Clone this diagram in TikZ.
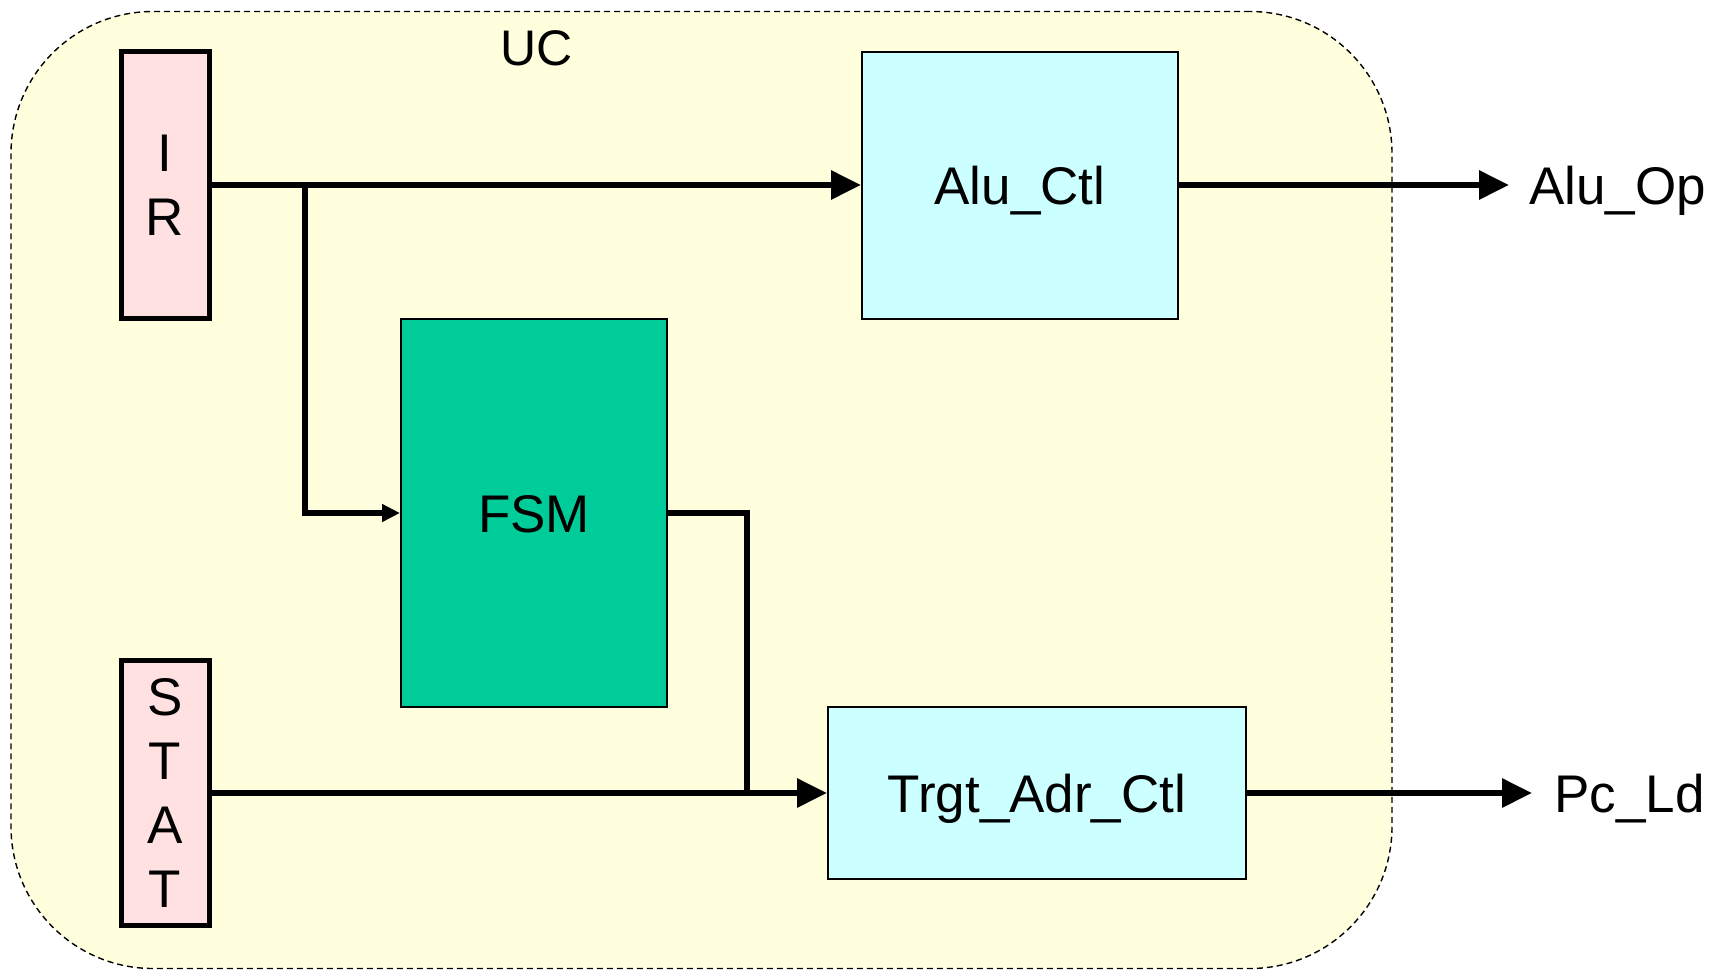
\documentclass[tikz,border=0pt]{standalone}
\usepackage{fontspec}
\setmainfont{Liberation Sans}
\usetikzlibrary{arrows.meta}
\definecolor{ucbg}{HTML}{FFFFDD}
\definecolor{regbg}{HTML}{FFE1E1}
\definecolor{ctlbg}{HTML}{CCFFFF}
\definecolor{fsmbg}{HTML}{00CC99}
\begin{document}
\begin{tikzpicture}[x=1pt,y=-1pt,
  bigfont/.style={font=\fontsize{53}{64}\selectfont},
  blk/.style={draw, line width=2pt, inner sep=0pt, bigfont, text height=38pt, text depth=0pt},
  reg/.style={draw, line width=5pt, fill=regbg, inner sep=0pt, align=center, bigfont},
  wire/.style={line width=6pt},
  arr/.style={wire, -{Triangle[length=30pt,width=28pt]}},
  sarr/.style={wire, -{Triangle[length=18pt,width=17pt]}},
  outlbl/.style={anchor=west, inner sep=0pt, bigfont, text height=38pt, text depth=0pt}]
\useasboundingbox (0,0) rectangle (1718,972);
\node[draw, dashed, dash pattern=on 6pt off 4pt, line width=1.4pt, fill=ucbg, rounded corners=142pt,
  minimum width=1381pt, minimum height=957pt, inner sep=0pt] (uc) at (701.5,490) {};
\node[inner sep=0pt, font=\fontsize{50}{60}\selectfont, text height=36pt, text depth=0pt] (uclbl) at (537,47) {UC};

\node[reg, minimum width=88pt, minimum height=267pt] (ir) at (165,185) {I\\R};
\node[reg, minimum width=88pt, minimum height=265pt] (stat) at (165,793) {S\\T\\A\\T};
\node[blk, fill=ctlbg, minimum width=316pt, minimum height=267pt] (alu) at (1020,185) {Alu\_Ctl};
\node[blk, fill=fsmbg, minimum width=266pt, minimum height=388pt] (fsm) at (534,513) {FSM};
\node[blk, fill=ctlbg, minimum width=418pt, minimum height=172pt] (trgt) at (1037,793) {Trgt\_Adr\_Ctl};

\node[outlbl] (aluop) at (1529,185) {Alu\_Op};
\node[outlbl] (pcld) at (1554,793) {Pc\_Ld};

\coordinate (br) at (305,185);
\coordinate (jn) at (747,793);

\draw[arr] (ir.east) -- (alu.west);
\draw[sarr] (br) |- (fsm.west);
\draw[wire] (fsm.east) -| (jn);
\draw[arr] (stat.east) -- (trgt.west);
\draw[arr, shorten >=20pt] (alu.east) -- (aluop.west);
\draw[arr, shorten >=22pt] (trgt.east) -- (pcld.west);
\end{tikzpicture}
\end{document}
